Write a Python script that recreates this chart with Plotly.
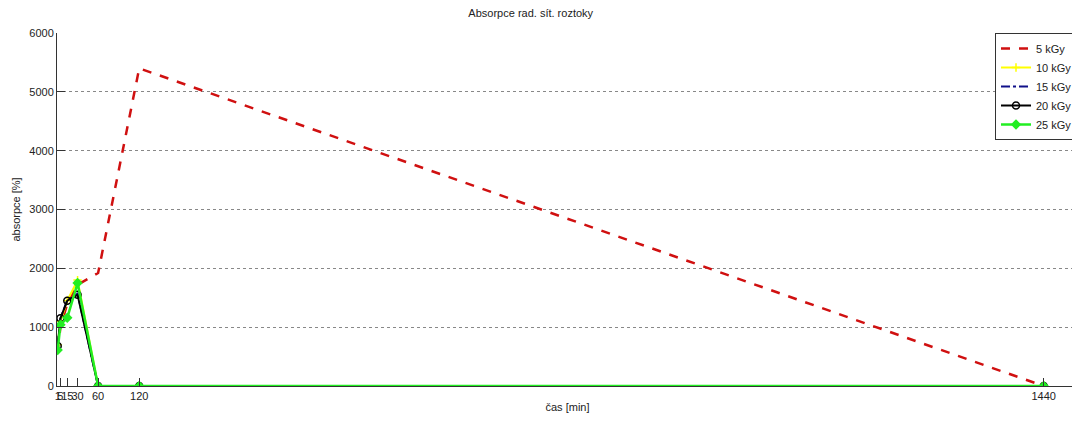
import plotly.graph_objects as go

# time points [min]
cas = [1, 5, 15, 30, 60, 120, 1440]
x_ticks = [1, 5, 15, 30, 60, 120, 1440]

abs_5 = [600, 1000, 1400, 1720, 1920, 5400, 0]
abs_10 = [700, 1100, 1450, 1800, 0, 0, 0]
abs_15 = [700, 1150, 1460, 1570, 0, 0, 0]
abs_20 = [680, 1150, 1450, 1550, 0, 0, 0]
abs_25 = [610, 1040, 1160, 1750, 0, 0, 0]

fig = go.Figure()
fig.add_trace(go.Scatter(x=cas, y=abs_5, name="5 kGy", mode="lines",
                         line=dict(color="#d01010", width=2.5, dash="dash")))
fig.add_trace(go.Scatter(x=cas, y=abs_10, name="10 kGy", mode="lines+markers",
                         line=dict(color="#ffff00", width=2),
                         marker=dict(symbol="cross-thin", size=6, line=dict(color="#ffff00", width=1.5))))
fig.add_trace(go.Scatter(x=cas, y=abs_15, name="15 kGy", mode="lines",
                         line=dict(color="#10108a", width=2, dash="dashdot")))
fig.add_trace(go.Scatter(x=cas, y=abs_20, name="20 kGy", mode="lines+markers",
                         line=dict(color="#000000", width=2),
                         marker=dict(symbol="circle-open", size=7, color="#000000", line=dict(width=1.5))))
fig.add_trace(go.Scatter(x=cas, y=abs_25, name="25 kGy", mode="lines+markers",
                         line=dict(color="#22ee22", width=2.5),
                         marker=dict(symbol="diamond", size=8, color="#22ee22")))

# the page body adds an 8px offset, margins compensate for it
fig.update_layout(
    width=1080, height=421,
    paper_bgcolor="white", plot_bgcolor="white",
    margin=dict(l=49, r=10, t=25, b=43),
    font=dict(family="Liberation Sans, Arial", size=11, color="#222222"),
    title=dict(text="Absorpce rad. sít. roztoky", x=0.484, xanchor="center", y=0.997, yanchor="top",
               font=dict(size=11)),
    showlegend=True,
    legend=dict(x=1, xanchor="right", y=1, yanchor="top", bgcolor="white",
                bordercolor="#333333", borderwidth=1, font=dict(size=11),
                tracegroupgap=0),
)
fig.update_xaxes(range=[0, 1490], tickvals=x_ticks, ticktext=[str(v) for v in x_ticks],
                 tickangle=0, automargin=False,
                 ticks="inside", ticklen=8, tickcolor="#333333", showgrid=False,
                 showline=True, linecolor="#333333", linewidth=1, zeroline=False,
                 title=dict(text="čas [min]", standoff=2, font=dict(size=11)))
fig.update_yaxes(range=[0, 6000], dtick=1000, automargin=False,
                 ticks="inside", ticklen=8, tickcolor="#333333",
                 showgrid=True, gridcolor="#888888", griddash="dot", gridwidth=1,
                 showline=True, linecolor="#333333", linewidth=1, zeroline=False,
                 title=dict(text="absorpce [%]", standoff=6, font=dict(size=11)))

fig.write_html("out.html")
